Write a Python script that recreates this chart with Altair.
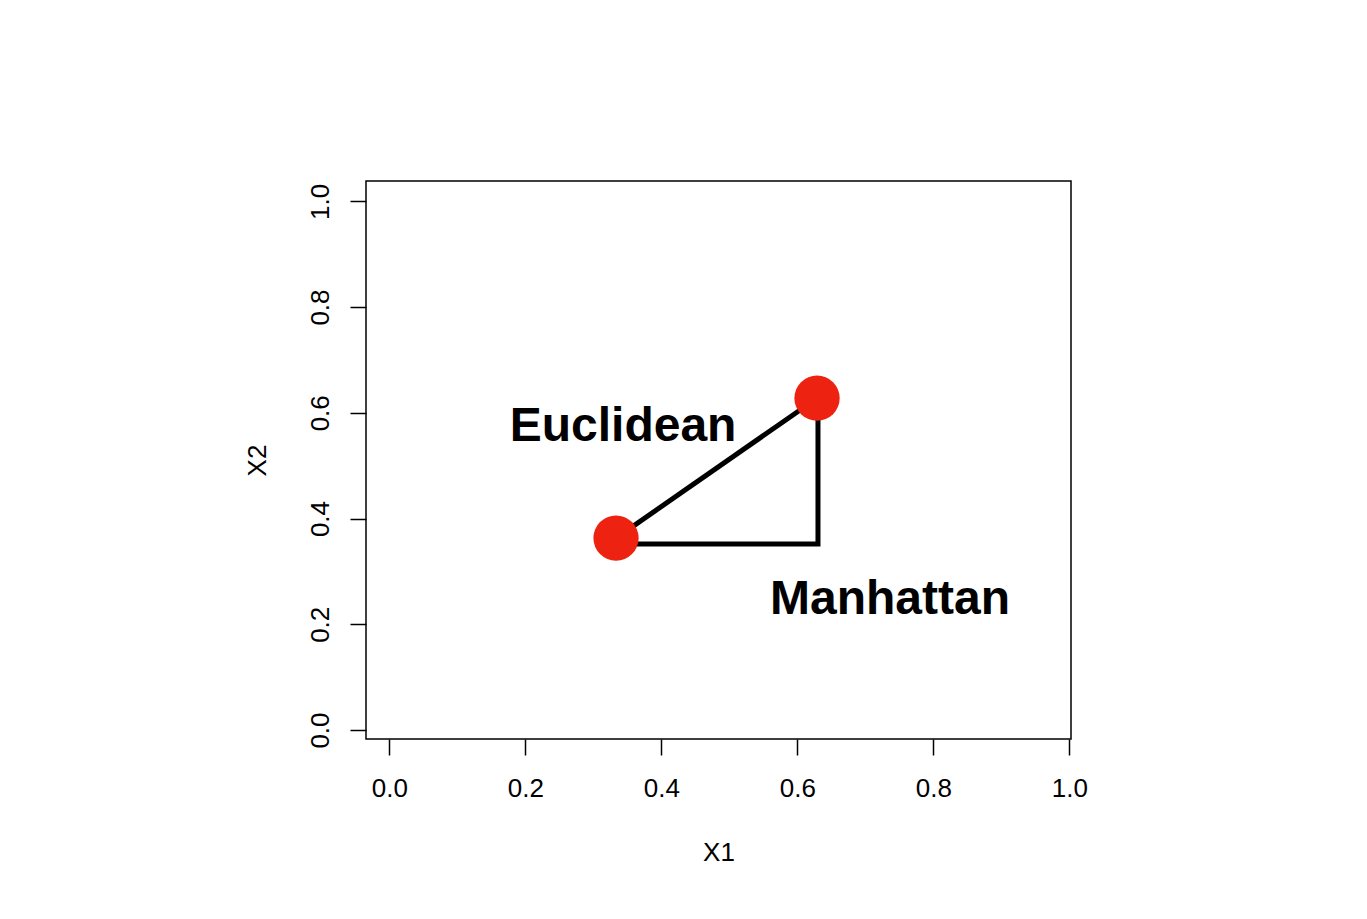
import altair as alt
import pandas as pd

# ---- data ----
point_x = [0.3334, 0.6290]
point_y = [0.3630, 0.6276]

euclid_x = [0.3334, 0.6290]
euclid_y = [0.3630, 0.6276]

manhattan_x = [0.3334, 0.6304, 0.6304]
manhattan_y = [0.3516, 0.3516, 0.6276]

label_text = ["Euclidean", "Manhattan"]
label_x = [0.3437, 0.7363]
label_y = [0.5463, 0.2193]

tick_values = [0.0, 0.2, 0.4, 0.6, 0.8, 1.0]

x_domain = [-0.0343, 1.0025]
y_domain = [-0.0170, 1.0384]

FONT = "Liberation Sans"

points_df = pd.DataFrame({"X1": point_x, "X2": point_y})
euclid_df = pd.DataFrame({"X1": euclid_x, "X2": euclid_y, "o": range(len(euclid_x))})
manh_df = pd.DataFrame({"X1": manhattan_x, "X2": manhattan_y, "o": range(len(manhattan_x))})
labels_df = pd.DataFrame({"X1": label_x, "X2": label_y, "label": label_text})

x_enc = alt.X(
    "X1:Q",
    scale=alt.Scale(domain=x_domain, nice=False, zero=False),
    axis=alt.Axis(
        values=tick_values, format=".1f", title="X1", domain=False, grid=False,
        tickSize=16, tickWidth=1.5, tickColor="black",
        labelFont=FONT, labelFontSize=26, labelColor="black",
        labelBaseline="alphabetic", labelPadding=41, labelFlush=False,
        titleFont=FONT, titleFontSize=26, titleFontWeight="normal", titleColor="black",
        titleBaseline="alphabetic", titleY=121,
    ),
)
y_enc = alt.Y(
    "X2:Q",
    scale=alt.Scale(domain=y_domain, nice=False, zero=False),
    axis=alt.Axis(
        values=tick_values, format=".1f", title="X2", domain=False, grid=False,
        tickSize=16, tickWidth=1.5, tickColor="black",
        labelFont=FONT, labelFontSize=26, labelColor="black",
        labelAngle=270, labelAlign="center", labelBaseline="alphabetic",
        labelPadding=22, labelFlush=False,
        titleFont=FONT, titleFontSize=26, titleFontWeight="normal", titleColor="black",
        titleAngle=270, titleAlign="center", titleBaseline="alphabetic",
        titleX=-101, titleY=279,
    ),
)

manh = alt.Chart(manh_df).mark_line(color="black", strokeWidth=5, strokeJoin="miter", strokeCap="butt").encode(
    x=x_enc, y=y_enc, order="o:O"
)
euclid = alt.Chart(euclid_df).mark_line(color="black", strokeWidth=5, strokeCap="butt").encode(
    x="X1:Q", y="X2:Q", order="o:O"
)
points = alt.Chart(points_df).mark_circle(size=2050, color="#EE2210", opacity=1).encode(
    x="X1:Q", y="X2:Q"
)
labels = alt.Chart(labels_df).mark_text(
    font=FONT, fontSize=48, fontWeight="bold", color="black",
    align="center", baseline="alphabetic"
).encode(x="X1:Q", y="X2:Q", text="label:N")

chart = (
    alt.layer(manh, euclid, points, labels)
    .properties(
        width=705, height=558,
        autosize=alt.AutoSizeParams(type="none"),
        padding={"left": 358, "top": 173, "right": 280, "bottom": 160},
        background="white",
    )
    .configure_view(stroke="black", strokeWidth=1.5)
)

chart.save("out.html", embed_options={"renderer": "svg", "actions": False})
